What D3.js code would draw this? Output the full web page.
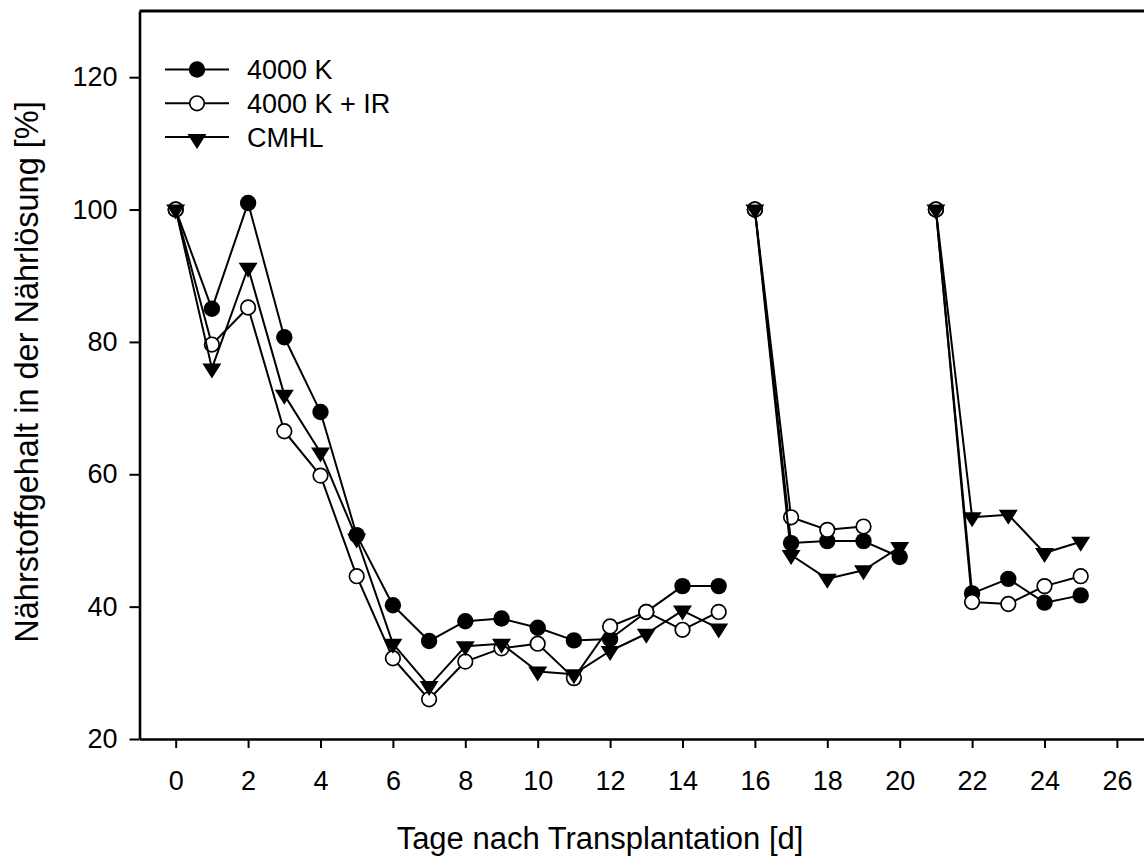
<!DOCTYPE html>
<html>
<head>
<meta charset="utf-8">
<script src="https://cdn.jsdelivr.net/npm/d3@7"></script>
<style>
  html, body { margin: 0; padding: 0; background: #fff; }
  svg { display: block; font-family: "Liberation Sans", Arial, sans-serif; }
</style>
</head>
<body>
<svg id="chart" width="1144" height="862"></svg>
<script>
// Days after transplantation
const days = [0, 1, 2, 3, 4, 5, 6, 7, 8, 9, 10, 11, 12, 13, 14, 15, 16, 17, 18, 19, 20, 21, 22, 23, 24, 25];

// Nutrient content of the solution [%] per treatment (null = not measured)
const k4000 = [100, 85.0, 101.0, 80.7, 69.4, 50.8, 40.2, 34.8, 37.8, 38.2, 36.8, 34.9, 35.1, 39.2, 43.1, 43.1,
               100, 49.6, 49.9, 49.9, 47.5, 100, 42.0, 44.2, 40.6, 41.7];
const k4000IR = [100, 79.6, 85.2, 66.5, 59.8, 44.6, 32.2, 26.0, 31.7, 33.7, 34.4, 29.2, 37.0, 39.2, 36.5, 39.2,
                 100, 53.5, 51.6, 52.1, null, 100, 40.7, 40.4, 43.1, 44.6];
const cmhl = [100, 76.0, 91.2, 72.0, 63.3, 50.3, 34.4, 28.0, 34.0, 34.4, 30.2, 29.8, 33.3, 35.9, 39.4, 36.7,
              100, 47.8, 44.2, 45.5, 49.0, 100, 53.5, 53.9, 48.1, 49.8];

// Solution renewals split the record into separate runs (first and last day of each)
const runs = [[0, 15], [16, 20], [21, 25]];

const seriesNames = ["4000 K", "4000 K + IR", "CMHL"];
const xTicks = [0, 2, 4, 6, 8, 10, 12, 14, 16, 18, 20, 22, 24, 26];
const yTicks = [20, 40, 60, 80, 100, 120];

const series = [
  { name: seriesNames[0], values: k4000, symbol: "filled" },
  { name: seriesNames[1], values: k4000IR, symbol: "open" },
  { name: seriesNames[2], values: cmhl, symbol: "triangle" }
];

const svg = d3.select("#chart");

const x = d3.scaleLinear().domain([-1, 27]).range([139.5, 139.5 + 28 * 36.2]);
const y = d3.scaleLinear().domain([20, 130]).range([739, 11]);

const tickFont = 27;

// Axes
const yAxis = svg.append("g")
  .attr("transform", `translate(${x(-1)},0)`)
  .call(d3.axisLeft(y).tickValues(yTicks).tickSize(10).tickSizeOuter(0).tickPadding(12));
const xAxis = svg.append("g")
  .attr("transform", `translate(0,${y(20)})`)
  .call(d3.axisBottom(x).tickValues(xTicks).tickSize(9).tickSizeOuter(0).tickPadding(23));

[yAxis, xAxis].forEach(g => {
  g.select(".domain").attr("stroke", "#000").attr("stroke-width", 2.6);
  g.selectAll(".tick line").attr("stroke", "#000").attr("stroke-width", 2);
  g.selectAll(".tick text").attr("fill", "#000")
    .style("font-size", tickFont + "px")
    .style("font-family", "'Liberation Sans', Arial, sans-serif");
});

// Upper frame line
svg.append("line")
  .attr("x1", x(-1)).attr("x2", 1144)
  .attr("y1", y(130)).attr("y2", y(130))
  .attr("stroke", "#000").attr("stroke-width", 3);

// Axis titles
svg.append("text")
  .attr("x", 600).attr("y", 849)
  .attr("text-anchor", "middle")
  .style("font-size", "31px")
  .text("Tage nach Transplantation [d]");

svg.append("text")
  .attr("transform", "translate(38,372) rotate(-90)")
  .attr("text-anchor", "middle")
  .style("font-size", "32.5px")
  .text("Nährstoffgehalt in der Nährlösung [%]");

// Marker drawing
const triPath = "M-9.5,-5L9.5,-5L0,10Z";
function drawMarker(g, kind, cx, cy) {
  if (kind === "filled") {
    g.append("circle").attr("cx", cx).attr("cy", cy).attr("r", 8.2).attr("fill", "#000");
  } else if (kind === "open") {
    g.append("circle").attr("cx", cx).attr("cy", cy).attr("r", 7.3)
      .attr("fill", "#fff").attr("stroke", "#000").attr("stroke-width", 1.7);
  } else {
    g.append("path").attr("d", triPath).attr("transform", `translate(${cx},${cy})`).attr("fill", "#000");
  }
}

const line = d3.line()
  .defined(d => d.v != null)
  .x(d => x(d.day))
  .y(d => y(d.v));

const plot = svg.append("g");
series.forEach(s => {
  const g = plot.append("g");
  runs.forEach(([a, b]) => {
    const pts = days.filter(d => d >= a && d <= b).map(d => ({ day: d, v: s.values[d] }));
    g.append("path")
      .datum(pts)
      .attr("d", line)
      .attr("fill", "none")
      .attr("stroke", "#000")
      .attr("stroke-width", 2)
      .attr("stroke-linejoin", "round");
  });
  days.forEach(d => {
    if (s.values[d] != null) drawMarker(g, s.symbol, x(d), y(s.values[d]));
  });
});

// Legend
const legendRows = [69.5, 103.3, 137];
series.forEach((s, i) => {
  const ly = legendRows[i];
  const g = svg.append("g");
  g.append("line").attr("x1", 165).attr("x2", 229).attr("y1", ly).attr("y2", ly)
    .attr("stroke", "#000").attr("stroke-width", 2);
  drawMarker(g, s.symbol, 197, s.symbol === "triangle" ? ly + 2 : ly);
  g.append("text").attr("x", 247).attr("y", ly + 9.5)
    .style("font-size", "27px")
    .text(s.name);
});
</script>
</body>
</html>
